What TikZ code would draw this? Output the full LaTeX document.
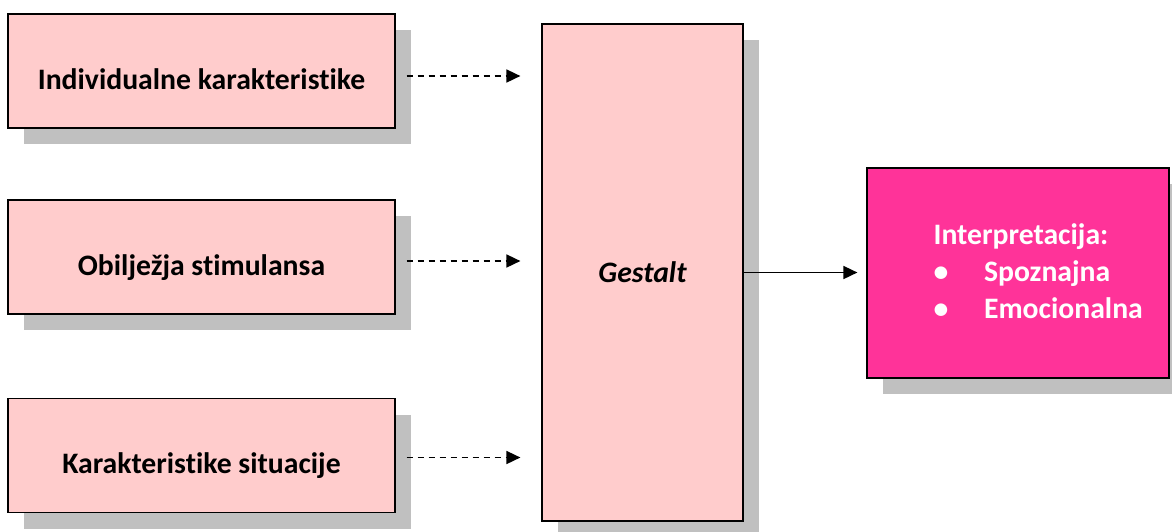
\documentclass[tikz,border=0pt]{standalone}
\usepackage{fontspec}
\setmainfont{Carlito}[Ligatures=NoCommon]
\usetikzlibrary{shadows, arrows.meta}

\begin{document}
\begin{tikzpicture}
        [x=1pt, y=-1pt, every node/.style={draw=black, line width=1.2pt, font=\fontsize{29.7}{37}\selectfont\bfseries},
        sbox/.style={fill=boxpink, drop shadow={shadow xshift=16pt, shadow yshift=-16pt, opacity=1, fill=shadowgray}},
        sleft/.style={sbox, minimum width=387pt, minimum height=114pt, text height=36pt, text depth=0pt},
        link/.style={line width=1.7pt, -{Triangle[length=14pt,width=13pt]}}]
        \definecolor{boxpink}{HTML}{FFCCCC}
        \definecolor{boxmagenta}{HTML}{FF3399}
        \definecolor{shadowgray}{HTML}{C0C0C0}

        \useasboundingbox (0,0) rectangle (1172,531);

        \node[sleft] (s1) at (201.5, 71) {Individualne karakteristike};
        \node[sleft] (s2) at (201.5, 257) {Obilježja stimulansa};
        \node[sleft] (s3) at (201.5, 455.5) {Karakteristike situacije};
        \node[sbox, minimum width=201pt, minimum height=497pt] (g) at (642.5, 272.5) {\itshape Gestalt};
        \node[sbox, fill=boxmagenta, minimum width=302pt, minimum height=210pt] (i) at (1018, 273) {};
        \node[draw=none, text=white, align=left, anchor=west, inner sep=0] (it) at (933, 271)
          {Interpretacija:\\ \textbullet\hspace{1.2em}Spoznajna\\ \textbullet\hspace{1.2em}Emocionalna};

        \draw[link, dashed, dash pattern=on 6pt off 5pt, shorten <=11pt, shorten >=21pt] ([yshift=-5pt]s1.east) -- ([yshift=-5pt]s1.east -| g.west);
        \draw[link, dashed, dash pattern=on 6pt off 5pt, shorten <=11pt, shorten >=21pt] ([yshift=-4pt]s2.east) -- ([yshift=-4pt]s2.east -| g.west);
        \draw[link, dashed, dash pattern=on 6pt off 5pt, shorten <=11pt, shorten >=21pt] ([yshift=-2pt]s3.east) -- ([yshift=-2pt]s3.east -| g.west);
        \draw[link, shorten >=9pt] (g.east) -- (g.east -| i.west);

      \end{tikzpicture}
\end{document}
